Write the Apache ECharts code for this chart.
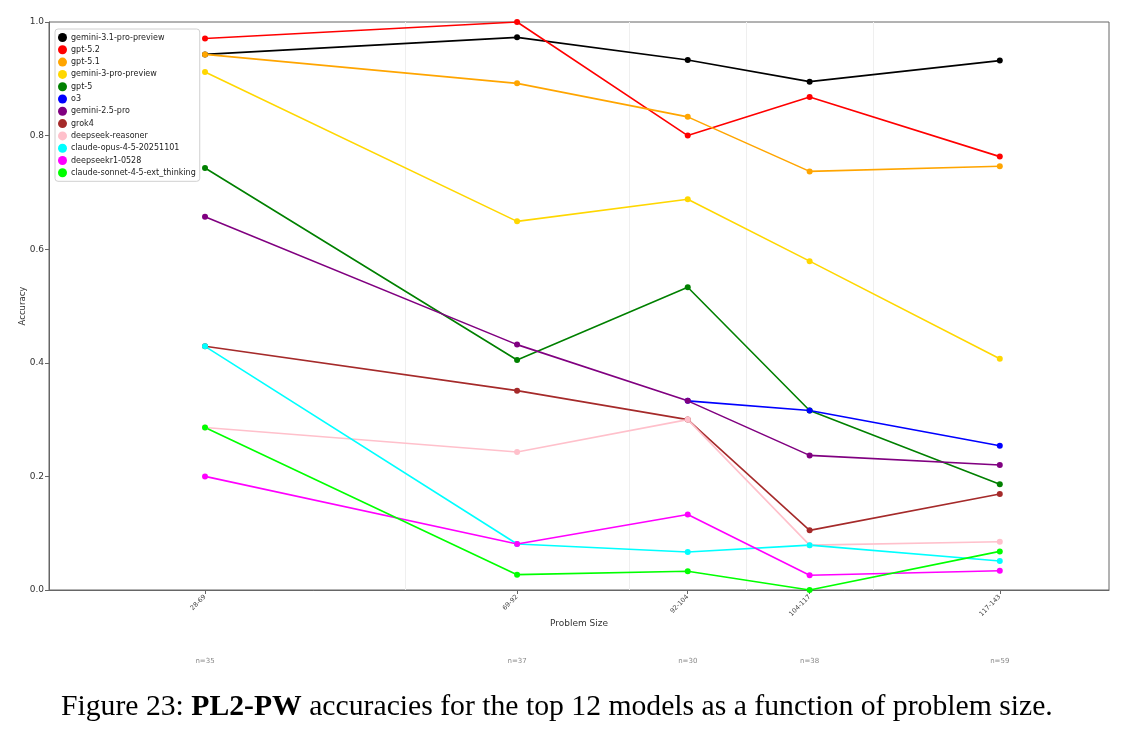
<!DOCTYPE html>
<html>
<head>
<meta charset="utf-8">
<script src="https://cdn.jsdelivr.net/npm/echarts@6/dist/echarts.min.js"></script>
<style>
  html, body { margin: 0; padding: 0; background: #fff; }
  #chart { width: 1134px; height: 737px; }
</style>
</head>
<body>
<div id="chart"></div>
<script>
// bins of problem size (x = bin midpoint)
var binLabels = ['28-69', '69-92', '92-104', '104-117', '117-143'];
var binMid = [48.5, 80.5, 98, 110.5, 130];
var binEdges = [69, 92, 104, 117];
var binCounts = [35, 37, 30, 38, 59];

var models = ['gemini-3.1-pro-preview', 'gpt-5.2', 'gpt-5.1', 'gemini-3-pro-preview', 'gpt-5', 'o3',
  'gemini-2.5-pro', 'grok4', 'deepseek-reasoner', 'claude-opus-4-5-20251101', 'deepseekr1-0528',
  'claude-sonnet-4-5-ext_thinking'];
var colors = ['#000000', '#ff0000', '#ffa500', '#ffd700', '#008000', '#0000ff',
  '#800080', '#a52a2a', '#ffc0cb', '#00ffff', '#ff00ff', '#00ff00'];

// accuracy per model, one value per bin
var gemini31 = [0.943, 0.973, 0.933, 0.895, 0.932];
var gpt52 = [0.971, 1.0, 0.800, 0.868, 0.763];
var gpt51 = [0.943, 0.892, 0.833, 0.737, 0.746];
var gemini3 = [0.912, 0.649, 0.688, 0.579, 0.407];
var gpt5 = [0.743, 0.405, 0.533, 0.316, 0.186];
var o3 = [null, null, 0.333, 0.316, 0.254];
var gemini25 = [0.657, 0.432, 0.333, 0.237, 0.220];
var grok4 = [0.429, 0.351, 0.300, 0.105, 0.169];
var dsReasoner = [0.286, 0.243, 0.300, 0.079, 0.085];
var opus45 = [0.429, 0.081, 0.067, 0.079, 0.051];
var dsR1 = [0.200, 0.081, 0.133, 0.026, 0.034];
var sonnet45 = [0.286, 0.027, 0.033, 0.0, 0.068];
var allValues = [gemini31, gpt52, gpt51, gemini3, gpt5, o3, gemini25, grok4, dsReasoner, opus45, dsR1, sonnet45];

var myChart = echarts.init(document.getElementById('chart'));
var font = 'DejaVu Sans';

function labelOf(v) {
  for (var i = 0; i < binMid.length; i++) {
    if (Math.abs(binMid[i] - v) < 0.01) return binLabels[i];
  }
  return '';
}
function countOf(v) {
  for (var i = 0; i < binMid.length; i++) {
    if (Math.abs(binMid[i] - v) < 0.01) return 'n=' + binCounts[i];
  }
  return '';
}

var series = [];
// faint lines at bin boundaries (drawn first, underneath)
series.push({
  type: 'line',
  xAxisIndex: 0,
  data: [],
  silent: true,
  z: 0,
  markLine: {
    symbol: 'none',
    silent: true,
    z: 0,
    animation: false,
    label: { show: false },
    lineStyle: { color: '#efefef', type: 'solid', width: 1 },
    data: binEdges.map(function (e) { return { xAxis: e }; })
  }
});
for (var s = 0; s < models.length; s++) {
  var pts = [];
  for (var k = 0; k < binMid.length; k++) {
    pts.push([binMid[k], allValues[s][k]]);
  }
  series.push({
    name: models[s],
    type: 'line',
    xAxisIndex: 0,
    data: pts,
    symbol: 'circle',
    symbolSize: 6,
    showSymbol: true,
    connectNulls: false,
    z: 3,
    lineStyle: { width: 1.6, color: colors[s] },
    itemStyle: { color: colors[s] },
    emphasis: { disabled: true },
    animation: false
  });
}

var option = {
  animation: false,
  color: colors,
  title: {
    left: 56,
    top: 687,
    text: '{r|Figure 23: }{b|PL2-PW}{r| accuracies for the top 12 models as a function of problem size.}',
    textStyle: {
      fontWeight: 'normal',
      rich: {
        r: { fontFamily: 'Liberation Serif', fontSize: 29.7, fontWeight: 'normal', color: '#000' },
        b: { fontFamily: 'Liberation Serif', fontSize: 29.7, fontWeight: 'bold', color: '#000' }
      }
    }
  },
  legend: {
    data: models,
    orient: 'vertical',
    left: 55,
    top: 29,
    icon: 'circle',
    itemWidth: 9,
    itemHeight: 9,
    itemGap: 3.3,
    padding: [4, 4, 4, 3],
    borderColor: '#d0d0d0',
    borderWidth: 1,
    borderRadius: 3,
    backgroundColor: 'rgba(255,255,255,0.85)',
    textStyle: { fontFamily: font, fontSize: 8, color: '#222', padding: [0, 0, 0, -1] }
  },
  grid: {
    left: 49, right: 25, top: 22, bottom: 147,
    show: true, borderColor: '#666', borderWidth: 1
  },
  xAxis: [{
    type: 'value',
    min: 32.5,
    max: 141.2,
    name: 'Problem Size',
    nameLocation: 'middle',
    nameGap: 29,
    nameMoveOverlap: false,
    nameTextStyle: { fontFamily: font, fontSize: 9, color: '#333' },
    axisLine: { show: true, onZero: false, lineStyle: { color: '#666' } },
    axisTick: { show: true, customValues: binMid, length: 4, lineStyle: { color: '#666' } },
    axisLabel: {
      customValues: binMid,
      rotate: 45,
      fontFamily: font,
      fontSize: 6.5,
      color: '#444',
      margin: 6,
      formatter: function (v) { return labelOf(v); }
    },
    splitLine: { show: false }
  }, {
    type: 'value',
    min: 32.5,
    max: 141.2,
    position: 'bottom',
    offset: 60,
    axisLine: { show: false },
    axisTick: { show: false, customValues: binMid },
    axisLabel: {
      customValues: binMid,
      fontFamily: font,
      fontSize: 7,
      color: '#888',
      formatter: function (v) { return countOf(v); }
    },
    splitLine: { show: false }
  }],
  yAxis: {
    type: 'value',
    min: 0,
    max: 1,
    interval: 0.2,
    name: 'Accuracy',
    nameLocation: 'middle',
    nameGap: 22,
    nameMoveOverlap: false,
    nameTextStyle: { fontFamily: font, fontSize: 8.5, color: '#333' },
    axisLine: { show: true, lineStyle: { color: '#666' } },
    axisTick: { show: true, length: 4, lineStyle: { color: '#666' } },
    axisLabel: {
      fontFamily: font,
      fontSize: 9,
      color: '#333',
      margin: 5,
      formatter: function (v) { return v.toFixed(1); }
    },
    splitLine: { show: false }
  },
  series: series
};

myChart.setOption(option);
</script>
</body>
</html>
